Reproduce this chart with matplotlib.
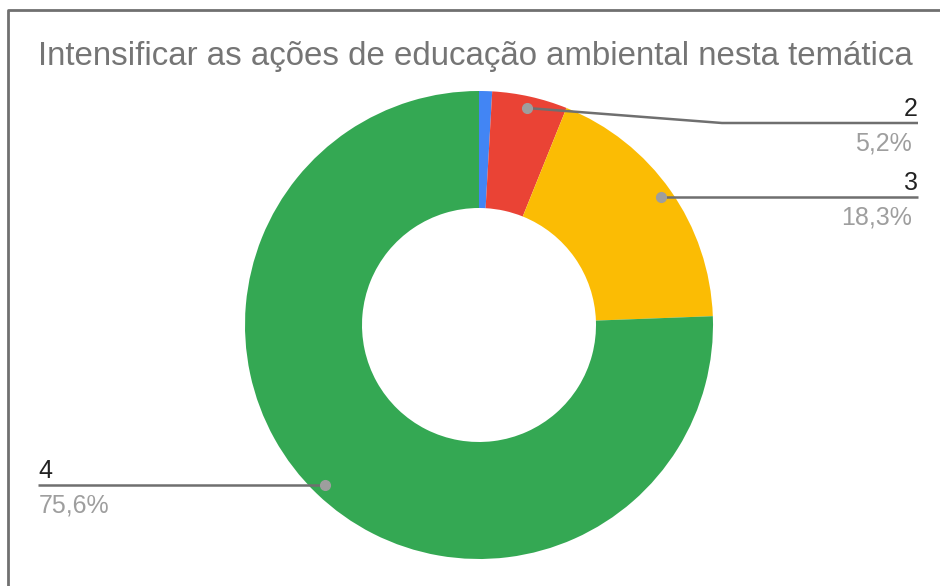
import matplotlib.pyplot as plt
import numpy as np

plt.rcParams['font.family'] = ['Liberation Sans', 'DejaVu Sans']

# Answer shares (%)
labels = ['1', '2', '3', '4']
values = [0.9, 5.2, 18.3, 75.6]
colors = ['#4285f4', '#ea4335', '#fbbc04', '#34a853']

W, H = 940, 586
fig = plt.figure(figsize=(W / 100, H / 100), dpi=100)
ax = fig.add_axes([0, 0, 1, 1])

# donut geometry in pixel units (y measured from bottom)
cx, cy, R = 479, H - 325, 234
wedges, _ = ax.pie(values, colors=colors, center=(cx, cy), radius=R,
                   startangle=90, counterclock=False,
                   wedgeprops=dict(width=R * 0.5, linewidth=0))
ax.set_xlim(0, W)
ax.set_ylim(0, H)
ax.set_aspect('equal')
ax.axis('off')

# frame around the chart
ax.plot([8, 8, W + 5], [-5, H - 10, H - 10], color='#707070', lw=2, clip_on=False)

ax.text(38, H - 65, 'Intensificar as ações de educação ambiental nesta temática',
        fontsize=23.8, color='#757575', ha='left', va='baseline')

# callouts: line height, text end, alignment, knee x (None = straight)
callouts = {
    '2': (H - 123, 918, 'right', 722),
    '3': (H - 199, 918, 'right', None),
    '4': (H - 487, 38, 'left', None),
}

for w, lab, val in zip(wedges, labels, values):
    if lab not in callouts:
        continue
    ly, ex, ha, knee = callouts[lab]
    mid = np.deg2rad((w.theta1 + w.theta2) / 2)
    dx = cx + 0.95 * R * np.cos(mid)
    dy = cy + 0.95 * R * np.sin(mid)
    if knee is None:
        xs, ys = [dx, ex], [dy, dy]
        ly = dy
    else:
        xs, ys = [dx, knee, ex], [dy, ly, ly]
    ax.plot(xs, ys, color='#6f6f6f', lw=1.8, solid_capstyle='butt', zorder=3)
    ax.plot(dx, dy, 'o', color='#9e9e9e', ms=7, zorder=4)
    ax.text(ex, ly + 7, lab, fontsize=18, color='#222222', ha=ha, va='baseline')
    pct = f'{val:.1f}'.replace('.', ',') + '%'
    px = ex - 6 if ha == 'right' else ex + 1
    ax.text(px, ly - 27, pct, fontsize=18, color='#9e9e9e', ha=ha, va='baseline')

fig.savefig('out.png', dpi=100)
